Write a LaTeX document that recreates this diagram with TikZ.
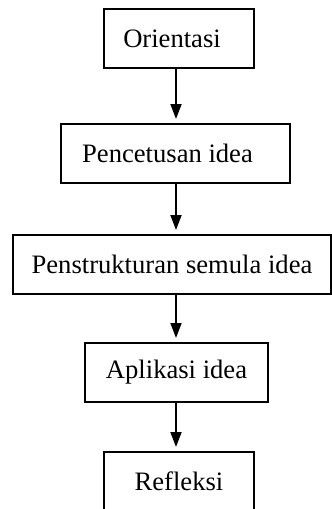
\documentclass[tikz,border=0pt]{standalone}
\usepackage{fontspec}
\setmainfont{Liberation Serif}
\usetikzlibrary{arrows.meta}
\begin{document}
\begin{tikzpicture}[x=1pt,y=-1pt,
  stepbox/.style={draw,line width=2pt,minimum height=59pt,inner sep=0pt,
    font=\fontsize{26.6}{30}\selectfont},
  arr/.style={line width=1.8pt,-{Triangle[length=15pt,width=11pt]},shorten >=4pt}]
\useasboundingbox[fill=white] (0,0) rectangle (332,509);
\node[stepbox,minimum width=150pt] (a) at (179,38.5) {Orientasi\kern14pt\null};
\node[stepbox,minimum width=229pt] (b) at (175.5,153.5) {Pencetusan idea\kern16pt\null};
\node[stepbox,minimum width=318pt] (c) at (172,264.5) {Penstrukturan semula idea};
\node[stepbox,minimum width=183pt] (d) at (176.5,372.5) {Aplikasi idea};
\node[stepbox,minimum width=150pt] (e) at (179,481.5) {Refleksi};
\coordinate (ax) at (176,0);
\draw[arr] (a.south -| ax) -- (b.north -| ax);
\draw[arr] (b.south -| ax) -- (c.north -| ax);
\draw[arr] (c.south -| ax) -- (d.north -| ax);
\draw[arr] (d.south -| ax) -- (e.north -| ax);
\end{tikzpicture}
\end{document}
